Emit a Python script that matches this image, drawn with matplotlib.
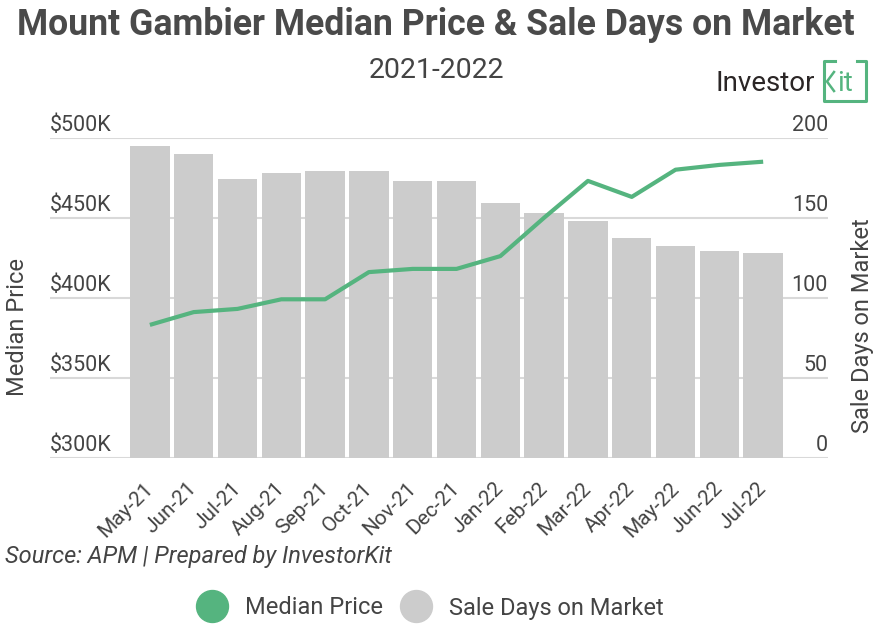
import matplotlib
matplotlib.use("Agg")
import matplotlib.pyplot as plt
import matplotlib.transforms as mtransforms
from matplotlib.lines import Line2D
import numpy as np

months = ["May-21", "Jun-21", "Jul-21", "Aug-21", "Sep-21", "Oct-21", "Nov-21",
          "Dec-21", "Jan-22", "Feb-22", "Mar-22", "Apr-22", "May-22", "Jun-22", "Jul-22"]
median_price = [383, 391, 393, 399, 399, 416, 418, 418, 426, 450, 473, 463, 480, 483, 485]  # $K
sale_days = [195, 190, 174, 178, 179, 179, 173, 173, 159, 153, 148, 137, 132, 129, 128]

price_ticks = [300, 350, 400, 450, 500]
days_ticks = [0, 50, 100, 150, 200]

GREEN = "#55b47f"
GREY = "#cccccc"
TEXT = "#444444"

plt.rcParams["font.family"] = ["Roboto", "DejaVu Sans"]

W, H = 890, 633


def fx(px):
    return px / W


def fy(py):
    return 1 - py / H


fig = plt.figure(figsize=(8.9, 6.33), dpi=100)
ax = fig.add_axes([fx(50), fy(457.7), 778 / W, 320 / H])
ax2 = ax.twinx()

x = np.arange(len(months))
ax.bar(x, sale_days, width=0.9, color=GREY, zorder=2)
ax.set_ylim(0, 200)
ax.set_xlim(-2.28, 15.48)
ax.set_yticks(days_ticks)
ax.yaxis.grid(True, color="#d9d9d9", linewidth=1.5)
ax.set_axisbelow(True)

ax2.plot(x, median_price, color=GREEN, linewidth=3, solid_capstyle="butt")
ax2.set_ylim(300, 500)
ax2.set_yticks(price_ticks)

for a in (ax, ax2):
    for s in a.spines.values():
        s.set_visible(False)
    a.tick_params(axis="y", length=0, labelleft=False, labelright=False)

ax.set_xticks(x)
ax.set_xticklabels(months, rotation=45, ha="right", fontsize=15, color=TEXT)
ax.tick_params(axis="x", length=0, pad=15)
shift = mtransforms.ScaledTranslation(7 / 100, 0, fig.dpi_scale_trans)
for lab in ax.get_xticklabels():
    lab.set_transform(lab.get_transform() + shift)

# y tick labels sit above the gridlines
off_l = mtransforms.offset_copy(ax2.get_yaxis_transform(), fig=fig, x=0, y=6.5, units="dots")
for t in price_ticks:
    ax2.text(0, t, f"${t}K", transform=off_l, ha="left", va="baseline", fontsize=15.5, color=TEXT)
off_r = mtransforms.offset_copy(ax.get_yaxis_transform(), fig=fig, x=0, y=6.5, units="dots")
for t in days_ticks:
    ax.text(1, t, f"{t}", transform=off_r, ha="right", va="baseline", fontsize=15.5, color=TEXT)

fig.text(fx(18), fy(327), "Median Price", rotation=90, ha="center", va="center",
         fontsize=17, color=TEXT)
fig.text(fx(862), fy(326), "Sale Days on Market", rotation=90, ha="center", va="center",
         fontsize=17, color=TEXT)

fig.text(fx(436), fy(35), "Mount Gambier Median Price & Sale Days on Market",
         ha="center", va="baseline", fontsize=25.7, weight="bold", color="#4a4a4a")
fig.text(fx(436), fy(78), "2021-2022", ha="center", va="baseline", fontsize=20.5, color=TEXT)

fig.text(fx(5), fy(563), "Source: APM | Prepared by InvestorKit", ha="left", va="baseline",
         fontsize=17, style="italic", color=TEXT)

# logo
fig.text(fx(715), fy(91), "Investor", ha="left", va="baseline", fontsize=20, color="#2b2626")
box_x = [fx(835), fx(824), fx(824), fx(866), fx(866), fx(857)]
box_y = [fy(61), fy(61), fy(101), fy(101), fy(61), fy(61)]
fig.add_artist(Line2D(box_x, box_y, color=GREEN, linewidth=2.2, transform=fig.transFigure))
fig.add_artist(Line2D([fx(834), fx(827), fx(834)], [fy(72), fy(81.5), fy(91)], color=GREEN,
                      linewidth=1.8, transform=fig.transFigure))
fig.text(fx(837), fy(91), "it", ha="left", va="baseline", fontsize=20, color=GREEN)

handles = [
    Line2D([], [], marker="o", ls="", markersize=23, markerfacecolor=GREEN, markeredgecolor=GREEN),
    Line2D([], [], marker="o", ls="", markersize=23, markerfacecolor=GREY, markeredgecolor=GREY),
]
fig.legend(handles, ["Median Price", "Sale Days on Market"], loc="center",
           bbox_to_anchor=(fx(430), fy(608)), ncol=2, frameon=False, fontsize=17,
           handlelength=1.4, handletextpad=0.7, columnspacing=0.7, labelcolor=TEXT)

fig.savefig("out.png", dpi=100)
